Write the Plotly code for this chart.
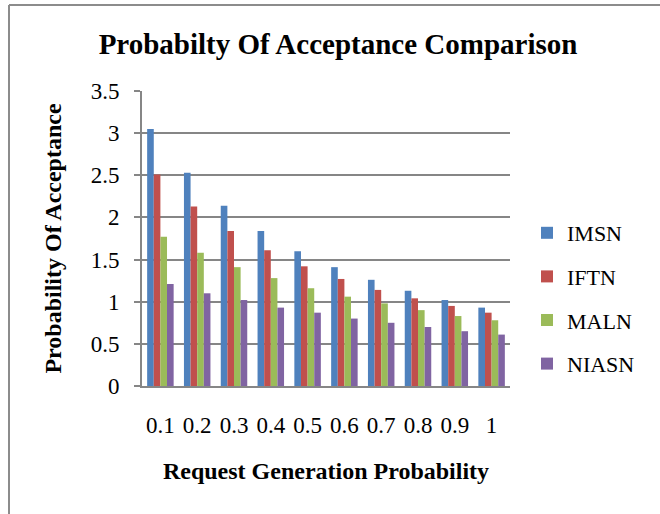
import plotly.graph_objects as go

categories = ["0.1", "0.2", "0.3", "0.4", "0.5", "0.6", "0.7", "0.8", "0.9", "1"]
imsn = [3.05, 2.53, 2.14, 1.84, 1.60, 1.41, 1.26, 1.13, 1.02, 0.93]
iftn = [2.51, 2.13, 1.84, 1.61, 1.42, 1.27, 1.14, 1.04, 0.95, 0.87]
maln = [1.77, 1.58, 1.41, 1.28, 1.16, 1.06, 0.98, 0.90, 0.83, 0.78]
niasn = [1.21, 1.10, 1.02, 0.93, 0.87, 0.80, 0.75, 0.70, 0.65, 0.61]
y_ticks = [0, 0.5, 1, 1.5, 2, 2.5, 3, 3.5]
y_tick_text = ["0", "0.5", "1", "1.5", "2", "2.5", "3", "3.5"]

series = [("IMSN", imsn, "#4F81BD"), ("IFTN", iftn, "#C0504D"),
          ("MALN", maln, "#9BBB59"), ("NIASN", niasn, "#8064A2")]

FONT = "Liberation Serif, Times New Roman, serif"

fig = go.Figure()
for name, vals, col in series:
    fig.add_trace(go.Bar(x=categories, y=vals, name=name, legendgroup=name,
                         marker=dict(color=col, line=dict(width=0))))

W, H = 660, 514
L, R, T, B = 142, 150, 91, 128
pw, ph = W - L - R, H - T - B

def px_x(x):
    return (x - L) / pw

def px_y(y):
    return (H - B - y) / ph

fig.update_layout(
    width=W, height=H,
    margin=dict(l=L, r=R, t=T, b=B),
    paper_bgcolor="white", plot_bgcolor="white",
    barmode="group", bargap=0.28, bargroupgap=0,
    font=dict(family=FONT, color="black"),
    title=dict(text="<b>Probabilty Of Acceptance Comparison</b>",
               font=dict(size=29, family=FONT, color="black"),
               xref="container", x=338 / W, xanchor="center",
               y=1 - 44 / H, yanchor="middle"),
    xaxis=dict(showgrid=False, showline=True, linecolor="#868686", linewidth=2,
               ticks="", tickfont=dict(size=23, family=FONT),
               ticklabelstandoff=17,
               title=dict(text="<b>Request Generation Probability</b>",
                          font=dict(size=24, family=FONT), standoff=26)),
    yaxis=dict(range=[0, 3.5], tickvals=y_ticks, ticktext=y_tick_text,
               showgrid=True, gridcolor="#868686", gridwidth=2,
               showline=True, linecolor="#868686", linewidth=2,
               ticks="outside", ticklen=6, tickcolor="#868686", tickwidth=2,
               tickfont=dict(size=23, family=FONT), ticklabelstandoff=10,
               title=dict(text="<b>Probability Of Acceptance</b>",
                          font=dict(size=24, family=FONT), standoff=22),
               zeroline=False),
    legend=dict(x=px_x(527), xanchor="left", y=px_y(212), yanchor="top",
                font=dict(size=22, family=FONT), tracegroupgap=12,
                bgcolor="rgba(0,0,0,0)"),
    showlegend=True,
    shapes=[
        dict(type="line", xref="paper", yref="paper",
             x0=px_x(9), x1=px_x(660), y0=px_y(5), y1=px_y(5),
             line=dict(color="#8c8c8c", width=2)),
        dict(type="line", xref="paper", yref="paper",
             x0=px_x(9), x1=px_x(9), y0=px_y(5), y1=px_y(514),
             line=dict(color="#8c8c8c", width=2)),
    ],
)

fig.write_html("out.html")
